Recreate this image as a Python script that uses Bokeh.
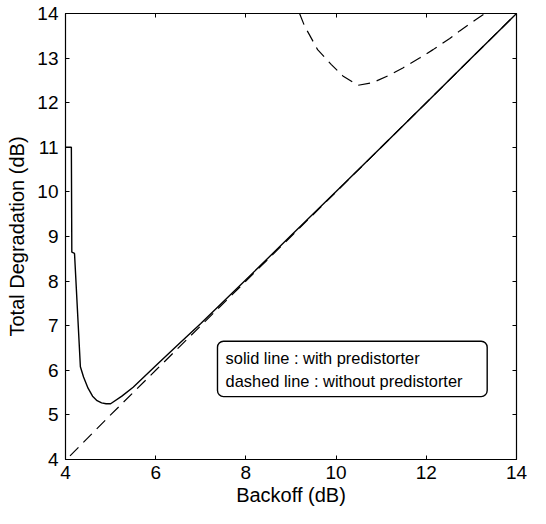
from bokeh.plotting import figure
from bokeh.models import LinearAxis, FixedTicker, BoxAnnotation, Range1d, ColumnDataSource
from bokeh.embed import file_html
from bokeh.resources import INLINE
from bokeh.core.properties import value

# ---- data ----
solid_x = [4.0, 4.13, 4.14, 4.2, 4.33, 4.4, 4.5, 4.6, 4.7, 4.8, 4.9, 5.0, 5.25, 5.5, 6.0, 6.5, 7.0, 8.0, 9.0, 10.0, 11.0, 12.0, 13.0, 14.0]
solid_y = [11.0, 11.0, 8.65, 8.62, 6.08, 5.85, 5.6, 5.42, 5.32, 5.27, 5.25, 5.25, 5.42, 5.62, 6.1, 6.58, 7.05, 8.03, 9.02, 10.01, 11.0, 12.0, 13.0, 14.0]

dash_low_x = [4.1, 5.0, 6.0, 7.0, 8.0, 9.0, 10.0, 11.0, 12.0, 13.0, 14.0]
dash_low_y = [4.08, 5.0, 6.0, 7.0, 8.0, 9.0, 10.0, 11.0, 12.0, 13.0, 14.0]

dash_up_x = [9.19, 9.3, 9.41, 9.59, 9.89, 10.15, 10.48, 10.81, 11.19, 11.48, 11.85, 12.15, 12.52, 12.74, 13.11, 13.3]
dash_up_y = [14.0, 13.72, 13.52, 13.19, 12.86, 12.6, 12.39, 12.45, 12.62, 12.78, 13.0, 13.19, 13.44, 13.61, 13.87, 14.0]

x_ticks = [4, 6, 8, 10, 12, 14]
y_ticks = [4, 5, 6, 7, 8, 9, 10, 11, 12, 13, 14]

legend_lines = ["solid line : with predistorter", "dashed line : without predistorter"]
legend_x = [7.55, 7.55]
legend_y = [6.27, 5.76]

FONT = "Liberation Sans"

p = figure(width=530, height=508, output_backend="svg", toolbar_location=None,
           x_range=Range1d(4, 14), y_range=Range1d(4, 14),
           min_border_left=65, min_border_right=14, min_border_top=13, min_border_bottom=43)
p.grid.visible = False
p.outline_line_color = "black"
p.outline_line_width = 1.2
p.outline_line_alpha = 1.0
p.background_fill_color = "white"
p.border_fill_color = "white"

bottom = p.xaxis[0]
left = p.yaxis[0]

p.line(solid_x, solid_y, line_color="black", line_width=1.4)
p.line(dash_low_x, dash_low_y, line_color="black", line_width=1.2, line_dash="12 7")
p.line(dash_up_x, dash_up_y, line_color="black", line_width=1.2, line_dash="12 7")

p.add_layout(BoxAnnotation(left=7.37, right=13.35, bottom=5.41, top=6.65, level="underlay",
                           fill_color="white", fill_alpha=1.0, line_color="black", line_alpha=1.0,
                           line_width=1.4, border_radius=6))
src = ColumnDataSource(dict(x=legend_x, y=legend_y, t=legend_lines))
p.text(x="x", y="y", text="t", source=src, text_font=value(FONT), text_font_size="16.4px",
       text_baseline="middle", text_align="left", text_color="black")

bottom.ticker = FixedTicker(ticks=x_ticks)
left.ticker = FixedTicker(ticks=y_ticks)

top = LinearAxis(ticker=FixedTicker(ticks=x_ticks))
right = LinearAxis(ticker=FixedTicker(ticks=y_ticks))
p.add_layout(top, "above")
p.add_layout(right, "right")

for ax in [bottom, left, top, right]:
    ax.axis_line_color = None
    ax.major_tick_in = 4
    ax.major_tick_out = 0
    ax.minor_tick_line_color = None
    ax.major_tick_line_color = "black"
    ax.major_label_text_font = FONT
    ax.major_label_text_font_size = "19px"
    ax.major_label_text_color = "black"
    ax.axis_label_text_font = FONT
    ax.axis_label_text_font_size = "20px"
    ax.axis_label_text_font_style = "normal"
    ax.axis_label_text_color = "black"

for ax in [top, right]:
    ax.major_label_text_font_size = "0px"
    ax.major_label_text_color = None
    ax.major_label_standoff = 0

bottom.axis_label = "Backoff (dB)"
left.axis_label = "Total Degradation (dB)"
bottom.major_label_standoff = 6
left.major_label_standoff = 7
bottom.axis_label_standoff = 2
left.axis_label_standoff = 6

open("out.html", "w").write(file_html(p, INLINE))
